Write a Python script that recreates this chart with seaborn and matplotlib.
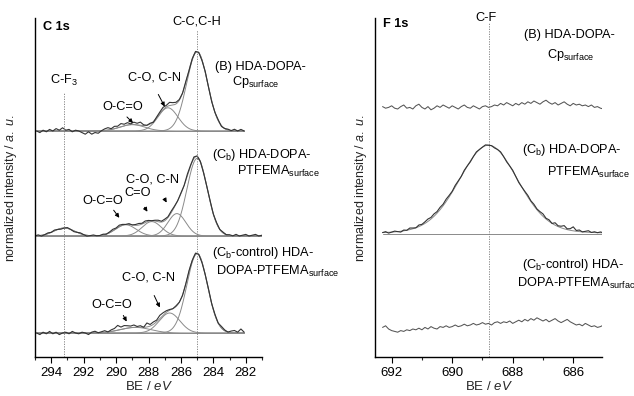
import numpy as np
import pandas as pd
import matplotlib
matplotlib.use("Agg")
import matplotlib.pyplot as plt
from matplotlib.ticker import MultipleLocator
import seaborn as sns

# ---------------- data ----------------
# C 1s fit components: centre (eV), height (normalized), FWHM (eV)
c1s_B_centers = [285.0, 286.8, 289.0]
c1s_B_heights = [0.99, 0.29, 0.08]
c1s_B_fwhm = [1.52, 1.45, 1.8]

c1s_Cb_centers = [285.0, 286.25, 287.8, 289.4, 293.2]
c1s_Cb_heights = [0.97, 0.28, 0.18, 0.14, 0.10]
c1s_Cb_fwhm = [1.48, 1.3, 1.4, 1.5, 1.5]

c1s_ctrl_centers = [285.0, 286.7, 288.8]
c1s_ctrl_heights = [0.99, 0.25, 0.07]
c1s_ctrl_fwhm = [1.5, 1.5, 2.2]

# vertical offsets of the stacked spectra
c1s_offsets = {"B": 2.825, "Cb": 1.5125, "ctrl": 0.30}

# residual of measured C 1s data relative to the fit envelope (0.2 eV steps)
c1s_B_range = (294.9, 282.1)
c1s_B_resid = [0.00, -0.02, 0.01, -0.01, 0.02,
               0.00, 0.03, 0.01, 0.04, 0.01,
               0.02, -0.01, 0.01, 0.00, -0.02,
               -0.04, -0.01, -0.04, -0.02, -0.03,
               0.00, 0.02, 0.03, 0.01, 0.03,
               0.02, 0.04, 0.02, 0.03, 0.01,
               0.03, 0.02, 0.04, 0.01, 0.00,
               0.01, -0.01, 0.01, 0.02, 0.03,
               0.02, 0.04, 0.03, 0.02, 0.01,
               0.00, 0.01, -0.01, 0.00, 0.01,
               0.00, -0.01, 0.01, 0.00, -0.01,
               0.00, 0.01, -0.01, 0.00, 0.01,
               0.00, 0.02, 0.00, 0.02, 0.00]

c1s_Cb_range = (295.0, 281.0)
c1s_Cb_resid = [0.00, 0.01, -0.01, 0.00, 0.01,
                0.00, 0.01, 0.00, -0.01, 0.00,
                0.01, 0.00, -0.01, 0.00, 0.01,
                0.00, -0.01, 0.00, 0.01, 0.00,
                0.00, 0.01, 0.00, 0.01, 0.02,
                0.01, 0.02, 0.01, 0.00, 0.01,
                0.00, 0.01, 0.02, 0.01, 0.02,
                0.01, 0.00, 0.01, 0.02, 0.01,
                0.02, 0.01, 0.02, 0.01, 0.00,
                0.01, 0.00, 0.02, 0.01, 0.02,
                0.01, 0.00, -0.01, 0.00, 0.01,
                0.00, 0.01, 0.00, 0.01, 0.00,
                0.01, 0.00, 0.02, 0.00, 0.01,
                0.02, 0.00, 0.01, 0.02, 0.00,
                0.01]

c1s_ctrl_range = (294.9, 282.1)
c1s_ctrl_resid = [0.00, -0.02, 0.01, -0.01, 0.02,
                  -0.01, 0.01, -0.02, 0.00, 0.01,
                  -0.01, 0.02, 0.00, -0.01, 0.01,
                  0.00, -0.02, 0.01, 0.02, 0.00,
                  0.01, 0.02, 0.00, 0.02, 0.03,
                  0.06, 0.03, 0.04, 0.03, 0.02,
                  0.03, 0.01, 0.02, 0.00, 0.05,
                  0.02, 0.03, 0.02, 0.04, 0.03,
                  0.02, 0.01, 0.00, 0.01, 0.00,
                  -0.01, 0.00, 0.01, 0.00, 0.01,
                  0.00, -0.01, 0.00, 0.01, 0.00,
                  0.01, 0.00, 0.02, 0.01, 0.00,
                  0.02, 0.03, 0.01, 0.05, 0.01]

# F 1s (0.1 eV steps from 692.3 to 685.0)
f1s_range = (692.3, 685.0)
f1s_B = [3.13, 3.11, 3.12, 3.14, 3.11, 3.10, 3.13, 3.15, 3.11, 3.12,
         3.10, 3.14, 3.16, 3.12, 3.10, 3.13, 3.09, 3.11, 3.14, 3.12,
         3.15, 3.13, 3.11, 3.14, 3.12, 3.10, 3.13, 3.15, 3.12, 3.11,
         3.14, 3.12, 3.10, 3.13, 3.14, 3.12, 3.13, 3.15, 3.14, 3.17,
         3.15, 3.18, 3.16, 3.14, 3.17, 3.15, 3.18, 3.16, 3.19, 3.17,
         3.20, 3.18, 3.16, 3.19, 3.21, 3.18, 3.16, 3.18, 3.15, 3.17,
         3.19, 3.16, 3.14, 3.17, 3.15, 3.16, 3.14, 3.15, 3.13, 3.15,
         3.12, 3.13, 3.11, 3.10]
f1s_ctrl = [0.37, 0.39, 0.35, 0.33, 0.32, 0.31,
            0.33, 0.32, 0.34, 0.33, 0.35,
            0.34, 0.36, 0.34, 0.37, 0.35,
            0.38, 0.36, 0.35, 0.38, 0.37,
            0.39, 0.37, 0.38, 0.40, 0.38,
            0.39, 0.41, 0.39, 0.40, 0.42,
            0.40, 0.41, 0.43, 0.41,
            0.42, 0.40, 0.43, 0.44, 0.42,
            0.44, 0.43, 0.45, 0.42, 0.44,
            0.46, 0.44, 0.47, 0.45, 0.48,
            0.46, 0.49, 0.47, 0.45, 0.47,
            0.44, 0.46, 0.48, 0.45, 0.43,
            0.45, 0.47, 0.44, 0.42, 0.40,
            0.41, 0.39, 0.42, 0.40, 0.38,
            0.39, 0.37, 0.38, 0.40]
f1s_Cb_center = 688.8
f1s_Cb_height = 1.11
f1s_Cb_fwhm = 2.3
f1s_Cb_lorentz = 0.15
f1s_Cb_offset = 1.5375
f1s_Cb_resid = [0.00, 0.01, -0.01, 0.00, 0.01, 0.00, -0.01, 0.01, 0.00, 0.02,
                0.01, 0.00, 0.02, 0.01, 0.02, 0.03, 0.02, 0.03, 0.02, 0.03,
                0.02, 0.03, 0.02, 0.01, 0.02, 0.01, 0.00, 0.01, 0.00, -0.01,
                0.00, 0.01, 0.00, 0.00, 0.01, 0.00, 0.00, -0.01, 0.00, 0.01,
                0.00, -0.01, 0.00, 0.01, 0.00, -0.01, 0.00, 0.01, 0.02, 0.01,
                0.02, 0.01, 0.02, 0.03, 0.01, 0.02, 0.00, 0.03, 0.01, 0.02,
                0.04, 0.01, 0.02, 0.05, 0.01, 0.02, 0.00, 0.01, 0.02, 0.00,
                0.01, 0.00, 0.01, 0.00]

c1s_xticks = [294, 292, 290, 288, 286, 284, 282]
f1s_xticks = [692, 690, 688, 686]

# ---------------- helpers ----------------
def peak(E, c, h, w, eta=0.0):
    g = np.exp(-4 * np.log(2) * ((E - c) / w) ** 2)
    l = 1.0 / (1.0 + 4 * ((E - c) / w) ** 2)
    return h * ((1 - eta) * g + eta * l)


def envelope(E, cs, hs, ws, eta=0.0):
    return sum(peak(E, c, h, w, eta) for c, h, w in zip(cs, hs, ws))


W, H = 634, 396
sns.set_theme(style="ticks")
plt.rcParams.update({
    "font.family": ["Liberation Sans", "DejaVu Sans"],
    "mathtext.fontset": "custom",
    "mathtext.rm": "Liberation Sans",
    "mathtext.it": "Liberation Sans:italic",
    "mathtext.bf": "Liberation Sans:bold",
    "mathtext.sf": "Liberation Sans",
    "axes.linewidth": 1.0,
    "axes.edgecolor": "black",
})

fig = plt.figure(figsize=(W / 100, H / 100), dpi=100)
axL = fig.add_axes([35 / W, 1 - 357 / H, 227 / W, 339 / H])
axR = fig.add_axes([375 / W, 1 - 357 / H, 227 / W, 339 / H])

MEAS = "#333333"
FIT = "#8a8a8a"
YTOP = 339 / 80


def draw_c1s(ax, rng, resid, cs, hs, ws, off):
    n = len(resid)
    E = np.linspace(rng[0], rng[1], n)
    Ef = np.linspace(rng[0], rng[1], 600)
    meas = envelope(E, cs, hs, ws) + np.array(resid) + off
    sns.lineplot(x=[rng[0], rng[1]], y=[off, off], ax=ax, color=FIT, lw=0.7,
                 sort=False, estimator=None)
    for c, h, w in zip(cs, hs, ws):
        sns.lineplot(x=Ef, y=peak(Ef, c, h, w) + off, ax=ax, color=FIT, lw=0.7,
                     sort=False, estimator=None)
    sns.lineplot(x=Ef, y=envelope(Ef, cs, hs, ws) + off, ax=ax, color=FIT,
                 lw=0.7, sort=False, estimator=None)
    sns.lineplot(x=E, y=meas, ax=ax, color=MEAS, lw=0.8, sort=False,
                 estimator=None)


draw_c1s(axL, c1s_B_range, c1s_B_resid, c1s_B_centers, c1s_B_heights,
         c1s_B_fwhm, c1s_offsets["B"])
draw_c1s(axL, c1s_Cb_range, c1s_Cb_resid, c1s_Cb_centers, c1s_Cb_heights,
         c1s_Cb_fwhm, c1s_offsets["Cb"])
draw_c1s(axL, c1s_ctrl_range, c1s_ctrl_resid, c1s_ctrl_centers,
         c1s_ctrl_heights, c1s_ctrl_fwhm, c1s_offsets["ctrl"])

# F 1s
Ef1 = np.linspace(f1s_range[0], f1s_range[1], len(f1s_B))
Eff = np.linspace(f1s_range[0], f1s_range[1], 600)
sns.lineplot(x=Ef1, y=f1s_B, ax=axR, color="#555555", lw=0.75, sort=False,
             estimator=None)
sns.lineplot(x=Ef1, y=f1s_ctrl, ax=axR, color="#555555", lw=0.75, sort=False,
             estimator=None)
sns.lineplot(x=[f1s_range[0], f1s_range[1]], y=[f1s_Cb_offset] * 2, ax=axR,
             color=FIT, lw=0.7, sort=False, estimator=None)
sns.lineplot(x=Eff, y=peak(Eff, f1s_Cb_center, f1s_Cb_height, f1s_Cb_fwhm,
                           f1s_Cb_lorentz) + f1s_Cb_offset,
             ax=axR, color=FIT, lw=0.7, sort=False, estimator=None)
sns.lineplot(x=Ef1, y=peak(Ef1, f1s_Cb_center, f1s_Cb_height, f1s_Cb_fwhm,
                           f1s_Cb_lorentz) + np.array(f1s_Cb_resid)
             + f1s_Cb_offset, ax=axR, color=MEAS, lw=0.8, sort=False,
             estimator=None)

# reference lines
axL.plot([293.2, 293.2], [0, (357 - 92) / 80], ls=(0, (1.5, 1.5)), lw=0.6,
         color="#777777")
axL.plot([285.0, 285.0], [0, (357 - 30) / 80], ls=(0, (1.5, 1.5)), lw=0.6,
         color="#777777")
axR.plot([688.8, 688.8], [0, (357 - 22) / 80], ls=(0, (1.5, 1.5)), lw=0.6,
         color="#777777")

for ax, xl, ticks in [(axL, (295.0, 281.0), c1s_xticks),
                      (axR, (692.55, 685.05), f1s_xticks)]:
    ax.set_xlim(*xl)
    ax.set_ylim(0, YTOP)
    ax.set_xticks(ticks)
    ax.set_xticklabels([str(t) for t in ticks])
    ax.xaxis.set_minor_locator(MultipleLocator(1))
    ax.set_yticks([])
    ax.tick_params(axis="x", which="major", direction="out", length=4,
                   width=0.8, labelsize=9.5, pad=3, colors="black")
    ax.tick_params(axis="x", which="minor", direction="out", length=2,
                   width=0.8)
    ax.set_xlabel(r"BE / $\mathit{eV}$", fontsize=9.5)
    ax.set_ylabel(r"normalized intensity / $\mathit{a.\ u.}$", fontsize=9)
    sns.despine(ax=ax)

axL.yaxis.set_label_coords((19 - 35) / 227, 0.5)
axR.yaxis.set_label_coords((369 - 375) / 227, 0.5)
axL.xaxis.set_label_coords(0.5, -(380 - 357) / 339)
axR.xaxis.set_label_coords(0.5, -(380 - 357) / 339)

FS = 9.2


def ftxt(px, py, s, ha="left", **kw):
    fig.text(px / W, 1 - py / H, s, ha=ha, va="center",
             fontsize=kw.pop("fontsize", FS), color="black", **kw)


def arrow(x1, y1, x2, y2):
    fig.add_artist(matplotlib.patches.FancyArrowPatch(
        (x1 / W, 1 - y1 / H), (x2 / W, 1 - y2 / H), transform=fig.transFigure,
        arrowstyle="-|>", mutation_scale=6, lw=0.7, color="black"))


# left panel texts
ftxt(43, 27, "C 1s", fontweight="bold")
ftxt(197, 22, "C-C,C-H", ha="center")
ftxt(64, 80, r"C-F$_\mathregular{3}$", ha="center")
ftxt(155, 78, "C-O, C-N", ha="center")
arrow(157, 92, 166, 109)
ftxt(123, 107, "O-C=O", ha="center")
arrow(125, 115, 135, 125)
ftxt(215, 67, "(B) HDA-DOPA-")
ftxt(232, 82, r"Cp$_\mathregular{surface}$")

ftxt(212, 155, r"(C$_\mathregular{b}$) HDA-DOPA-")
ftxt(237, 171, r"PTFEMA$_\mathregular{surface}$")
ftxt(153, 179, "C-O, C-N", ha="center")
ftxt(138, 193, "C=O", ha="center")
ftxt(103, 201, "O-C=O", ha="center")
arrow(112, 208, 121, 220)
arrow(143, 205, 149, 214)
arrow(163, 196, 168, 205)

ftxt(212, 253, r"(C$_\mathregular{b}$-control) HDA-")
ftxt(216, 271, r"DOPA-PTFEMA$_\mathregular{surface}$")
ftxt(148, 278, "C-O, C-N", ha="center")
arrow(153, 293, 161, 310)
ftxt(112, 305, "O-C=O", ha="center")
arrow(122, 313, 128, 324)

# right panel texts
ftxt(383, 24, "F 1s", fontweight="bold")
ftxt(486, 18, "C-F", ha="center")
ftxt(524, 35, "(B) HDA-DOPA-")
ftxt(547, 55, r"Cp$_\mathregular{surface}$")
ftxt(522, 150, r"(C$_\mathregular{b}$) HDA-DOPA-")
ftxt(547, 172, r"PTFEMA$_\mathregular{surface}$")
ftxt(522, 265, r"(C$_\mathregular{b}$-control) HDA-")
ftxt(517, 283, r"DOPA-PTFEMA$_\mathregular{surface}$")

fig.savefig("out.png", dpi=100, facecolor="white")
